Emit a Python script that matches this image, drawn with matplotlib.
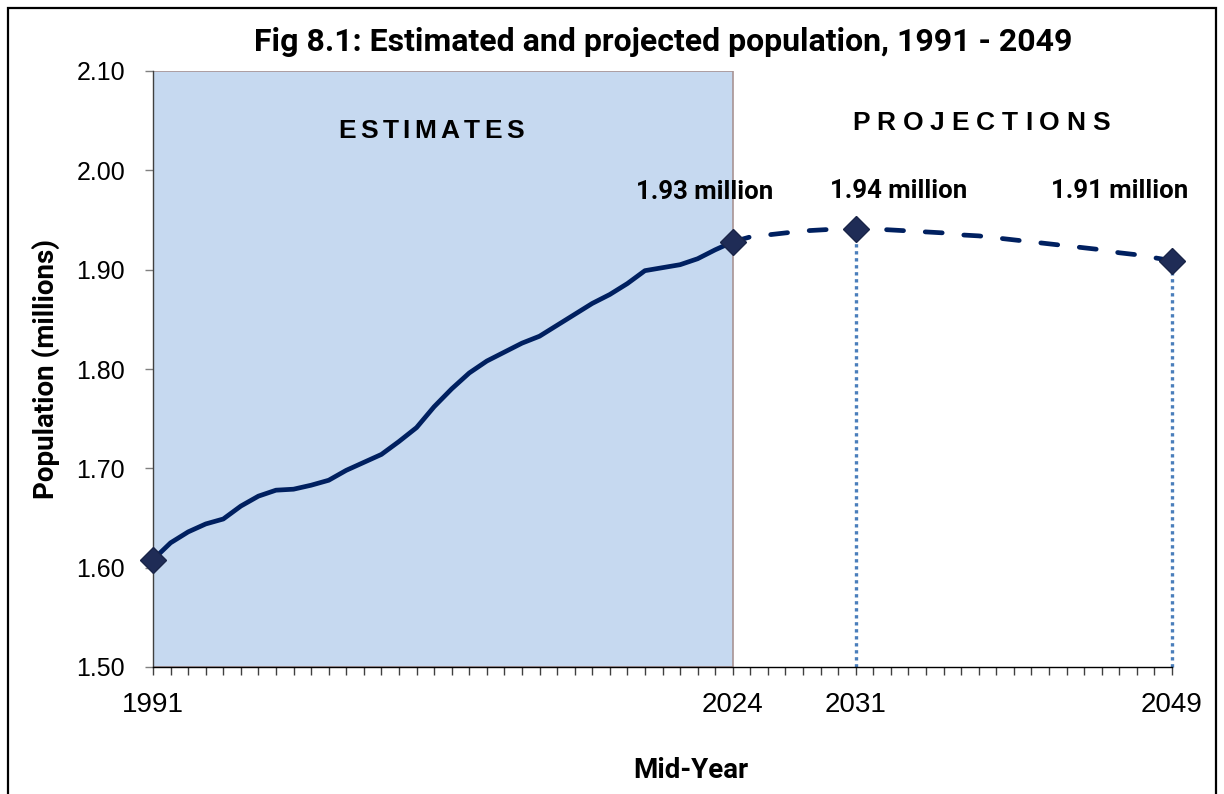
import matplotlib
matplotlib.use("Agg")
import matplotlib.pyplot as plt
from matplotlib.patches import Rectangle
from matplotlib.font_manager import FontProperties
from matplotlib.ticker import MultipleLocator, FixedLocator, FixedFormatter

# mid-year population estimates (millions)
est_years = list(range(1991, 2025))
est_pop = [1.608, 1.625, 1.636, 1.644, 1.649, 1.662, 1.672, 1.678, 1.679, 1.683,
           1.688, 1.698, 1.706, 1.714, 1.727, 1.741, 1.762, 1.780, 1.796, 1.808,
           1.817, 1.826, 1.833, 1.844, 1.855, 1.866, 1.875, 1.886, 1.899, 1.902,
           1.905, 1.911, 1.920, 1.928]

# projected population (millions)
proj_years = list(range(2024, 2050))
proj_pop = [1.928, 1.933, 1.935, 1.937, 1.939, 1.940, 1.941, 1.941, 1.941, 1.940,
            1.939, 1.938, 1.937, 1.935, 1.934, 1.932, 1.930, 1.928, 1.926, 1.924,
            1.922, 1.920, 1.917, 1.915, 1.912, 1.909]

marker_years = [1991, 2024, 2031, 2049]
label_years = [2024, 2031, 2049]
tick_years = [1991, 2024, 2031, 2049]

NAVY = "#002060"
MARKER = "#1f2c56"
SHADE = "#c6d9f0"
DOTS = "#4a7ebb"

pop_by_year = dict(zip(est_years, est_pop))
pop_by_year.update(dict(zip(proj_years, proj_pop)))

fig = plt.figure(figsize=(12.24, 7.94), dpi=100, facecolor="white")
ax = fig.add_axes([153/1224, 127/794, 1019/1224, 596/794])

ax.set_xlim(1991, 2049)
ax.set_ylim(1.50, 2.10)


def spaced_text(ax, x, y, s, tracking, size):
    """Draw s centred at axes point (x, y) with extra pixel gap between letters."""
    fp = FontProperties(family="Liberation Sans", weight="bold", size=size)
    renderer = fig.canvas.get_renderer()
    widths = [renderer.get_text_width_height_descent(c, fp, ismath=False)[0]
              for c in s]
    total = sum(widths) + tracking * (len(s) - 1)
    px, py = ax.transAxes.transform((x, y))
    left = px - total / 2
    inv = ax.transAxes.inverted()
    for c, w in zip(s, widths):
        cx, cy = inv.transform((left + w / 2, py))
        ax.text(cx, cy, c, transform=ax.transAxes, ha="center", va="center",
                fontproperties=fp)
        left += w + tracking


# shaded block for the estimates period
ax.add_patch(Rectangle((1991, 1.50), 2024 - 1991, 0.60, facecolor=SHADE,
                       edgecolor="#a89494", linewidth=1.2, zorder=0))

ax.plot(est_years, est_pop, color=NAVY, lw=3.4, solid_capstyle="round",
        zorder=3)
ax.plot(proj_years, proj_pop, color=NAVY, lw=3.4, ls=(0, (3.6, 4.6)),
        dash_capstyle="round", zorder=3)

# dotted drop lines under the projection markers
for yr in [2031, 2049]:
    ax.plot([yr, yr], [1.50, pop_by_year[yr]], color=DOTS, lw=2.4,
            ls=(0, (1, 1.1)), zorder=2, clip_on=False)

ax.plot(marker_years, [pop_by_year[y] for y in marker_years], ls="none",
        marker="D", ms=13, mfc=MARKER, mec="#1a2548", mew=1, zorder=4,
        clip_on=False)

offsets = {2024: (-20, 36), 2031: (31, 27), 2049: (-38, 50)}
for yr in label_years:
    ax.annotate(f"{pop_by_year[yr]:.2f} million", xy=(yr, pop_by_year[yr]),
                xytext=offsets[yr], textcoords="offset points",
                ha="center", va="center", fontsize=18.5, fontweight="bold",
                family="Roboto", color="black")

spaced_text(ax, 0.273, 0.899, "ESTIMATES", 4.4, 19)
spaced_text(ax, 0.8126, 0.913, "PROJECTIONS", 6.9, 19)

# axes styling
for side in ["top", "right"]:
    ax.spines[side].set_visible(False)
ax.spines["left"].set_color("#404040")
ax.spines["bottom"].set_color("black")
ax.spines["left"].set_linewidth(1.0)
ax.spines["bottom"].set_linewidth(1.0)

ax.yaxis.set_major_locator(MultipleLocator(0.10))
ax.yaxis.set_major_formatter(plt.FuncFormatter(lambda v, p: f"{v:.2f}"))
ax.tick_params(axis="y", direction="out", length=6, width=1, color="#808080",
               pad=14, labelsize=18)

ax.xaxis.set_major_locator(FixedLocator(tick_years))
ax.xaxis.set_major_formatter(FixedFormatter([str(y) for y in tick_years]))
ax.xaxis.set_minor_locator(MultipleLocator(1))
ax.tick_params(axis="x", which="both", direction="out", length=6, width=1,
               color="#404040")
ax.tick_params(axis="x", which="major", pad=12, labelsize=20)

for lbl in ax.get_xticklabels() + ax.get_yticklabels():
    lbl.set_family("Liberation Sans")

ax.set_ylabel("Population (millions)", fontsize=20, fontweight="bold",
              family="Roboto")
ax.yaxis.set_label_coords(-0.091, 0.5)
fig.text(691/1224, 1 - 770/794, "Mid-Year", ha="center", va="center",
         fontsize=20, fontweight="bold", family="Roboto")

fig.text(663/1224, 1 - 42/794,
         "Fig 8.1: Estimated and projected population, 1991 - 2049",
         ha="center", va="center", fontsize=23, fontweight="bold",
         family="Roboto")

# chart frame
fig.patches.append(Rectangle((8/1224, -0.05), 1208/1224, 1.05 - 8/794,
                             transform=fig.transFigure, fill=False,
                             edgecolor="black", linewidth=1.6))

fig.savefig("out.png", dpi=100, facecolor="white")
